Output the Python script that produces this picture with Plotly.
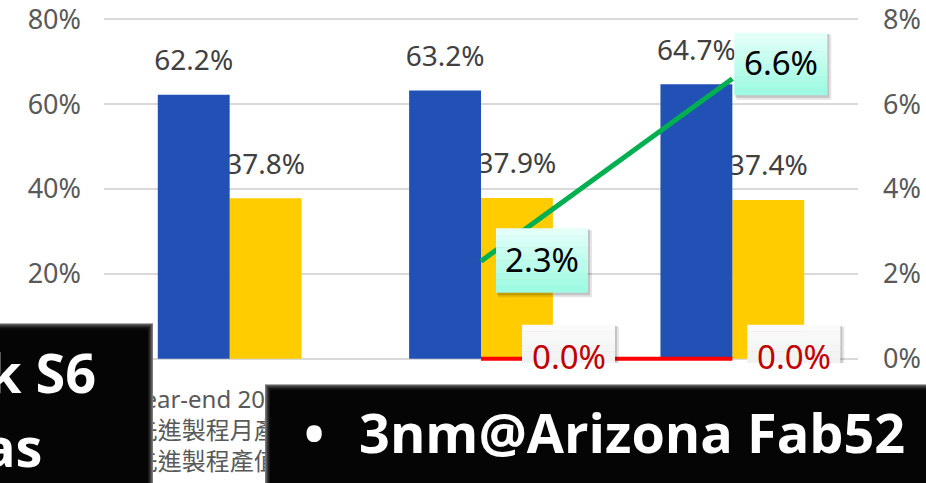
import plotly.graph_objects as go

# ---------------- data ----------------
categories = [
    "Year-end 2022 (A)<br>先進製程月產能比<br>先進製程產值比重",
    "Year-end 2023 (A)<br>先進製程月產能比<br>先進製程產值比重",
    "Year-end 2024 (F)<br>先進製程月產能比<br>先進製程產值比重",
]
blue_values = [62.2, 63.2, 64.7]          # left axis, %
yellow_values = [37.8, 37.9, 37.4]        # left axis, %
green_values = [None, 2.3, 6.6]           # right axis, %
red_values = [None, 0.0, 0.0]             # right axis, %
left_ticks = [0, 20, 40, 60, 80]
left_tick_labels = ["0%", "20%", "40%", "60%", "80%"]
right_ticks = [0, 2, 4, 6, 8]
right_tick_labels = ["0%", "2%", "4%", "6%", "8%"]

# ---------------- style ----------------
W, H = 926, 483
Y_PAD = 1.0                      # left-axis units below zero (keeps the 0% line unclipped)
Y_TOP = 80.3                     # a hair above 80 so the 80% tick is kept
PX_PER_UNIT = 340 / 80
ZERO_PX = 359
ML, MR = 104, 68
MT = ZERO_PX - Y_TOP * PX_PER_UNIT
PLOT_BOTTOM = ZERO_PX + Y_PAD * PX_PER_UNIT
MB = H - PLOT_BOTTOM
PW, PH = W - ML - MR, PLOT_BOTTOM - MT
BLUE = "#2151B5"
YELLOW = "#FFCC00"
GREEN = "#00B050"
RED = "#FF0000"
GRID = "#D9D9D9"
TICK = "#595959"
LABEL = "#404040"
FONT = "Noto Sans, Noto Sans CJK TC, sans-serif"
BW = 0.286          # bar width in category units
LABEL_GAP = 3.2     # data-unit gap between bar top and its label

idx = list(range(len(categories)))

def px_x(p):
    return (p - ML) / PW

def px_y(p):
    return (PLOT_BOTTOM - p) / PH

fig = go.Figure()

# yellow bars + their labels (drawn before blue so the blue bar overlaps the label)
fig.add_trace(go.Bar(x=idx, y=yellow_values, width=BW, offset=0,
                     marker=dict(color=YELLOW, line=dict(width=0)), hoverinfo="skip"))
fig.add_trace(go.Bar(x=idx, y=[LABEL_GAP] * len(idx), base=yellow_values, width=BW, offset=0,
                     marker=dict(color="rgba(0,0,0,0)", line=dict(width=0)),
                     text=[f"{v:.1f}%" for v in yellow_values], textposition="outside",
                     constraintext="none", cliponaxis=False,
                     textfont=dict(size=28, color=LABEL, family=FONT), hoverinfo="skip"))
# blue bars + labels
fig.add_trace(go.Bar(x=idx, y=blue_values, width=BW, offset=-BW,
                     marker=dict(color=BLUE, line=dict(width=0)), hoverinfo="skip"))
fig.add_trace(go.Bar(x=idx, y=[LABEL_GAP] * len(idx), base=blue_values, width=BW, offset=-BW,
                     marker=dict(color="rgba(0,0,0,0)", line=dict(width=0)),
                     text=[f"{v:.1f}%" for v in blue_values], textposition="outside",
                     constraintext="none", cliponaxis=False,
                     textfont=dict(size=28, color=LABEL, family=FONT), hoverinfo="skip"))

# lines on secondary axis
fig.add_trace(go.Scatter(x=idx, y=red_values, yaxis="y2", mode="lines",
                         line=dict(color=RED, width=4), hoverinfo="skip"))
fig.add_trace(go.Scatter(x=idx, y=green_values, yaxis="y2", mode="lines",
                         line=dict(color=GREEN, width=5), hoverinfo="skip"))

shapes = []
annotations = []

def grad_box(xa, ya, x0, x1, y0, y1, top, bottom, steps=10):
    # soft shadow
    shapes.append(dict(type="rect", xref="x", yref="y2", xsizemode="pixel", ysizemode="pixel",
                       xanchor=xa, yanchor=ya, x0=x0 + 2, x1=x1 + 4, y0=y0 - 5, y1=y1 - 2,
                       fillcolor="rgba(0,0,0,0.10)", line=dict(width=0), layer="above"))
    shapes.append(dict(type="rect", xref="x", yref="y2", xsizemode="pixel", ysizemode="pixel",
                       xanchor=xa, yanchor=ya, x0=x0 + 1, x1=x1 + 2, y0=y0 - 3, y1=y1 - 1,
                       fillcolor="rgba(0,0,0,0.15)", line=dict(width=0), layer="above"))
    h = (y1 - y0) / steps
    for k in range(steps):
        t = k / (steps - 1)
        c = tuple(round(top[j] + (bottom[j] - top[j]) * t) for j in range(3))
        shapes.append(dict(type="rect", xref="x", yref="y2", xsizemode="pixel", ysizemode="pixel",
                           xanchor=xa, yanchor=ya, x0=x0, x1=x1,
                           y0=y1 - (k + 1) * h - 0.5, y1=y1 - k * h,
                           fillcolor=f"rgb{c}", line=dict(width=0), layer="above"))

def value_label(i, values, x0, x1, y0, y1, top, bottom, color):
    v = values[i]
    grad_box(i, v, x0, x1, y0, y1, top, bottom)
    annotations.append(dict(x=i, y=v, xref="x", yref="y2", text=f"{v:.1f}%", showarrow=False,
                            xanchor="center", yanchor="middle",
                            xshift=(x0 + x1) / 2, yshift=(y0 + y1) / 2 + 1,
                            font=dict(size=33, color=color, family=FONT)))

MINT_TOP, MINT_BOT = (226, 255, 248), (158, 250, 226)
GRAY_TOP, GRAY_BOT = (250, 250, 250), (234, 235, 235)
value_label(1, red_values, 41, 134, -32, 34, GRAY_TOP, GRAY_BOT, "#C00000")
value_label(2, red_values, 15, 108, -32, 34, GRAY_TOP, GRAY_BOT, "#C00000")
value_label(1, green_values, 15, 107, -31, 33, MINT_TOP, MINT_BOT, "#000000")
value_label(2, green_values, 2, 95, -16, 46, MINT_TOP, MINT_BOT, "#000000")

# overlay black boxes with bevel
def black_box(x0, x1, y0, y1, side=None):
    shapes.append(dict(type="rect", xref="paper", yref="paper",
                       x0=px_x(x0), x1=px_x(x1), y0=px_y(y1), y1=px_y(y0),
                       fillcolor="#050505", line=dict(width=0), layer="above"))
    cols = ["#7a7a7a", "#5a5a5a", "#3c3c3c", "#262626", "#161616", "#0c0c0c"]
    for k, c in enumerate(cols):
        shapes.append(dict(type="rect", xref="paper", yref="paper",
                           x0=px_x(x0 + (k if side == "left" else 0)),
                           x1=px_x(x1 - (k if side == "right" else 0)),
                           y0=px_y(y0 + k + 1), y1=px_y(y0 + k),
                           fillcolor=c, line=dict(width=0), layer="above"))
    if side == "right":
        for k, c in enumerate(cols[:5]):
            shapes.append(dict(type="rect", xref="paper", yref="paper",
                               x0=px_x(x1 - k - 1), x1=px_x(x1 - k),
                               y0=px_y(y1), y1=px_y(y0 + k),
                               fillcolor=c, line=dict(width=0), layer="above"))
    if side == "left":
        for k, c in enumerate(cols[:5]):
            shapes.append(dict(type="rect", xref="paper", yref="paper",
                               x0=px_x(x0 + k), x1=px_x(x0 + k + 1),
                               y0=px_y(y1), y1=px_y(y0 + k),
                               fillcolor=c, line=dict(width=0), layer="above"))

black_box(-5, 153, 324, 490, side="right")
black_box(265, 935, 385, 490, side="left")

BIG = dict(size=54, color="#FFFFFF", family="Open Sans, Noto Sans, sans-serif", weight="bold")
annotations += [
    dict(x=px_x(98), y=px_y(372), xref="paper", yref="paper", text="k S6", showarrow=False,
         xanchor="right", yanchor="middle", font=BIG),
    dict(x=px_x(44), y=px_y(446), xref="paper", yref="paper", text="as", showarrow=False,
         xanchor="right", yanchor="middle", font=BIG),
    dict(x=px_x(314), y=px_y(432), xref="paper", yref="paper", text="•", showarrow=False,
         xanchor="center", yanchor="middle", font=BIG),
    dict(x=px_x(357), y=px_y(432), xref="paper", yref="paper", text="3nm@Arizona Fab52",
         showarrow=False, xanchor="left", yanchor="middle", font=BIG),
]

fig.update_layout(
    width=W, height=H,
    margin=dict(l=ML, r=MR, t=MT, b=MB, pad=0, autoexpand=False),
    paper_bgcolor="white", plot_bgcolor="white",
    barmode="overlay", showlegend=False,
    font=dict(family=FONT, color=TICK),
    xaxis=dict(tickmode="array", tickvals=idx, ticktext=categories, range=[-0.5, 2.5],
               showgrid=False, zeroline=False, showline=False, ticks="", automargin=False,
               tickfont=dict(size=24, color=TICK, family=FONT), ticklabelstandoff=20,
               ticklabeloverflow="allow"),
    yaxis=dict(range=[-Y_PAD, Y_TOP], tickmode="array", tickvals=left_ticks,
               ticktext=left_tick_labels, showgrid=True, automargin=False,
               gridcolor=GRID, gridwidth=1.5, zeroline=True, zerolinecolor=GRID, zerolinewidth=1.5,
               showline=False, ticks="", tickfont=dict(size=27, color=TICK, family=FONT),
               ticklabelstandoff=22, ticklabeloverflow="allow"),
    yaxis2=dict(range=[-Y_PAD / 10, Y_TOP / 10], tickmode="array", tickvals=right_ticks,
                ticktext=right_tick_labels,
                overlaying="y", side="right", automargin=False,
                showgrid=False, zeroline=False, showline=False, ticks="",
                tickfont=dict(size=27, color=TICK, family=FONT), ticklabelstandoff=24,
                ticklabeloverflow="allow"),
    shapes=shapes, annotations=annotations,
)

fig.write_html("out.html", config={"displayModeBar": False},
               post_script="document.body.style.margin='0px';")
